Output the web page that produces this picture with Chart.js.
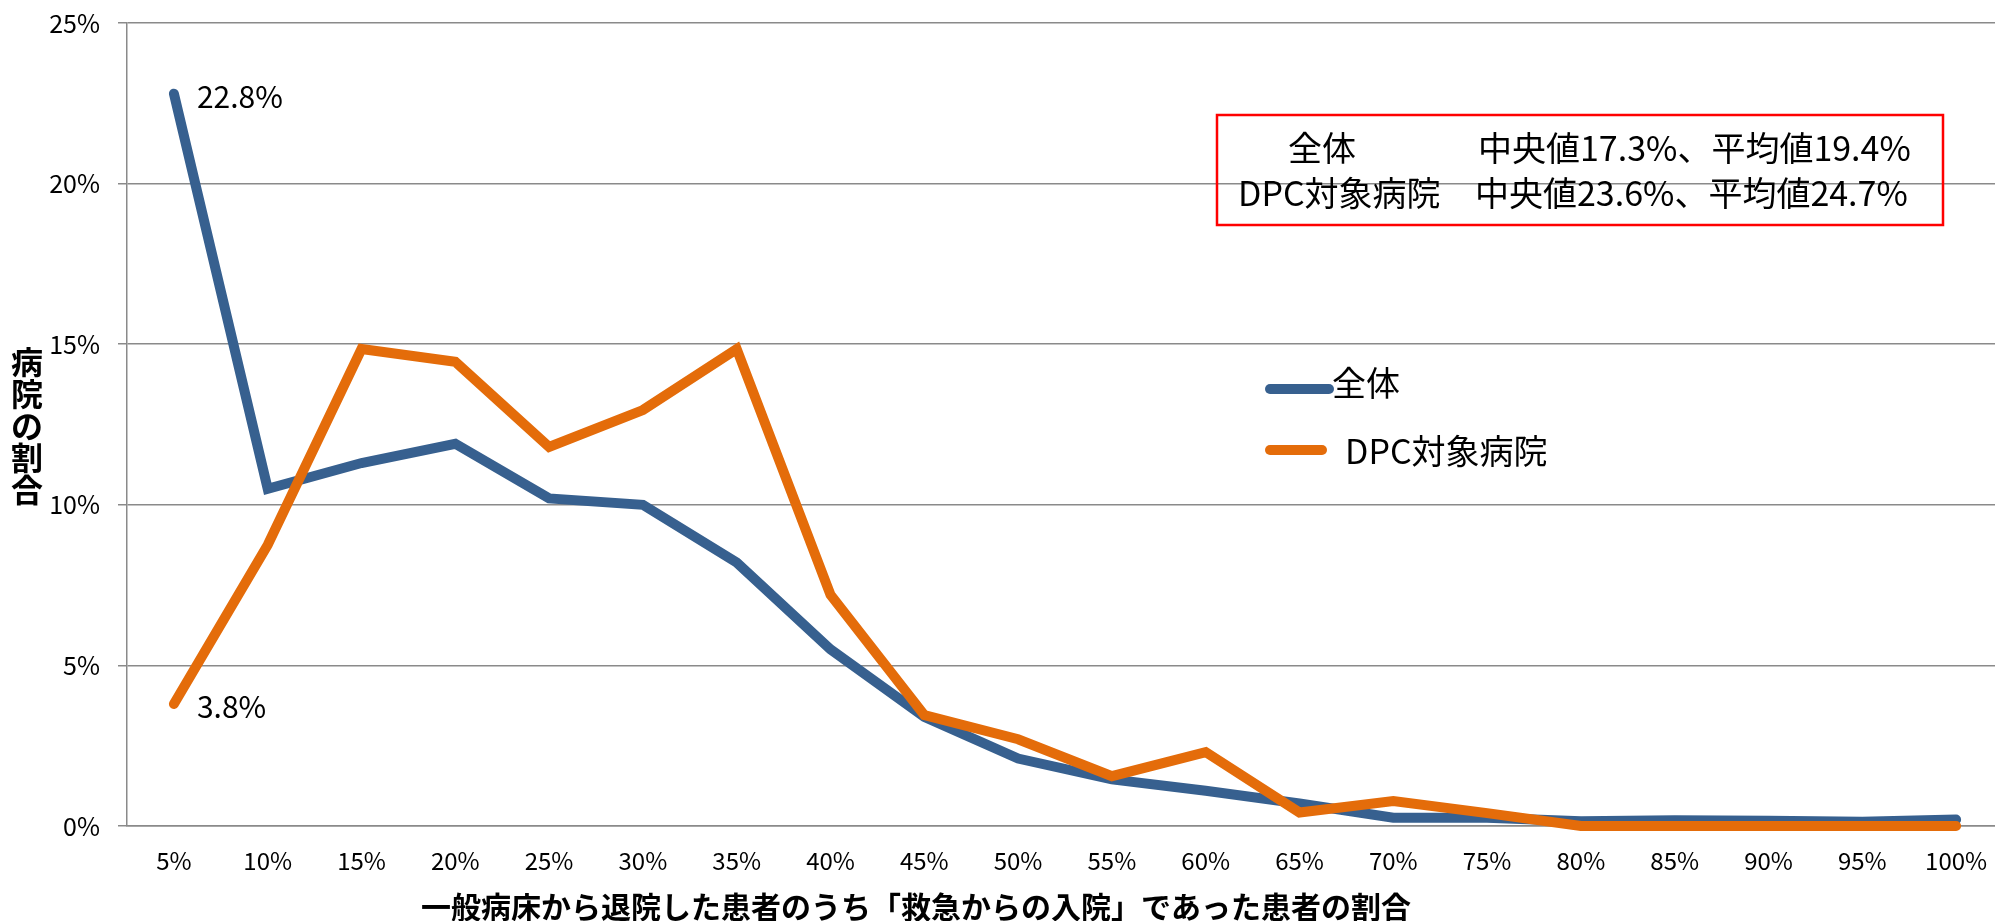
<!DOCTYPE html>
<html><head><meta charset="utf-8">
<script src="https://cdn.jsdelivr.net/npm/chart.js@4"></script>
<style>html,body{margin:0;padding:0;overflow:hidden;background:#fff}#wrap{width:2005px;height:921px}</style>
</head><body><div id="wrap"><canvas id="c" width="2005" height="921"></canvas></div>
<script>
// ---- data ----
const categories = ['5%','10%','15%','20%','25%','30%','35%','40%','45%','50%','55%','60%','65%','70%','75%','80%','85%','90%','95%','100%'];
const seriesNames = ['全体','DPC対象病院'];
const zentaiValues = [22.8, 10.5, 11.3, 11.9, 10.2, 10.0, 8.2, 5.5, 3.4, 2.1, 1.45, 1.1, 0.7, 0.26, 0.26, 0.15, 0.18, 0.16, 0.13, 0.2];
const dpcValues    = [3.8, 8.75, 14.85, 14.45, 11.8, 12.95, 14.85, 7.2, 3.45, 2.7, 1.55, 2.3, 0.42, 0.78, 0.4, 0, 0, 0, 0, 0];
const yTicks = [0, 5, 10, 15, 20, 25];
const xAxisTitle = '一般病床から退院した患者のうち「救急からの入院」であった患者の割合';
const yAxisTitle = '病院の割合';
const summaryLabels = ['全体', 'DPC対象病院'];
const summaryTexts = ['中央値17.3%、平均値19.4%', '中央値23.6%、平均値24.7%'];

// ---- style ----
const FONT = '"Noto Sans CJK JP", "Noto Sans", sans-serif';
const BLUE = '#37608f';
const ORANGE = '#e46c0a';
const GRID = '#8a8a8a';
Chart.defaults.font.family = FONT;

const overlay = {
  id: 'overlay',
  afterDraw(chart) {
    const ctx = chart.ctx;
    ctx.save();
    ctx.fillStyle = '#000';
    // y axis title (vertical, stacked characters)
    ctx.font = 'bold 32px ' + FONT;
    ctx.textAlign = 'center';
    ctx.textBaseline = 'middle';
    [...yAxisTitle].forEach((ch, i) => ctx.fillText(ch, 27, 362 + i * 32));
    // x axis title
    ctx.font = 'bold 30px ' + FONT;
    ctx.fillText(xAxisTitle, 916, 907);
    // first-point value labels
    ctx.font = '30px ' + FONT;
    ctx.textAlign = 'left';
    chart.data.datasets.forEach((ds, i) => {
      const pt = chart.getDatasetMeta(i).data[0];
      ctx.fillText(ds.data[0].toFixed(1) + '%', pt.x + 23, pt.y + 2.5);
    });
    // summary box
    ctx.strokeStyle = '#ff0000';
    ctx.lineWidth = 2.5;
    ctx.strokeRect(1217, 115, 726, 110);
    ctx.font = '34px ' + FONT;
    ctx.fillText(summaryLabels[0], 1288, 148);
    ctx.fillText(summaryTexts[0], 1478, 148);
    ctx.fillText(summaryLabels[1], 1238, 193);
    ctx.fillText(summaryTexts[1], 1475, 193);
    // legend
    const leg = [[1270, 1329, 389, 1332, 383], [1270, 1322, 450, 1345, 451]];
    chart.data.datasets.forEach((ds, i) => {
      const [x0, x1, ly, tx, ty] = leg[i];
      ctx.strokeStyle = ds.borderColor;
      ctx.lineWidth = 10;
      ctx.lineCap = 'round';
      ctx.beginPath(); ctx.moveTo(x0, ly); ctx.lineTo(x1, ly); ctx.stroke();
      ctx.fillStyle = '#000';
      ctx.fillText(ds.label, tx, ty);
    });
    ctx.restore();
  }
};

new Chart(document.getElementById('c'), {
  type: 'line',
  data: {
    labels: categories,
    datasets: [
      { label: seriesNames[0], data: zentaiValues, borderColor: BLUE, order: 2 },
      { label: seriesNames[1], data: dpcValues, borderColor: ORANGE, order: 1 }
    ].map(d => Object.assign(d, { borderWidth: 10, pointRadius: 0, tension: 0, fill: false,
      borderCapStyle: 'round', borderJoinStyle: 'miter', clip: false }))
  },
  options: {
    responsive: false, animation: false, devicePixelRatio: 1,
    layout: { padding: { top: 23, right: 2, left: 0, bottom: 0 } },
    plugins: { legend: { display: false }, tooltip: { enabled: false } },
    scales: {
      x: {
        offset: true,
        grid: { display: false, drawTicks: false },
        border: { display: true, color: GRID, width: 1.5 },
        ticks: { padding: 20, color: '#000', font: { size: 24 }, maxRotation: 0, autoSkip: false },
        afterFit(s) { s.height = 95; s.paddingLeft = 0; s.paddingRight = 0; }
      },
      y: {
        min: 0, max: 25,
        afterBuildTicks(s) { s.ticks = yTicks.map(v => ({ value: v })); },
        ticks: { padding: 18, color: '#000', font: { size: 25 }, callback: v => v + '%' },
        grid: { color: GRID, lineWidth: 1.5, tickLength: 9, drawTicks: true },
        border: { display: true, color: GRID, width: 1.5 },
        afterFit(s) { s.width = 127; s.paddingTop = 0; s.paddingBottom = 0; }
      }
    }
  },
  plugins: [overlay]
});
</script>
</body></html>
